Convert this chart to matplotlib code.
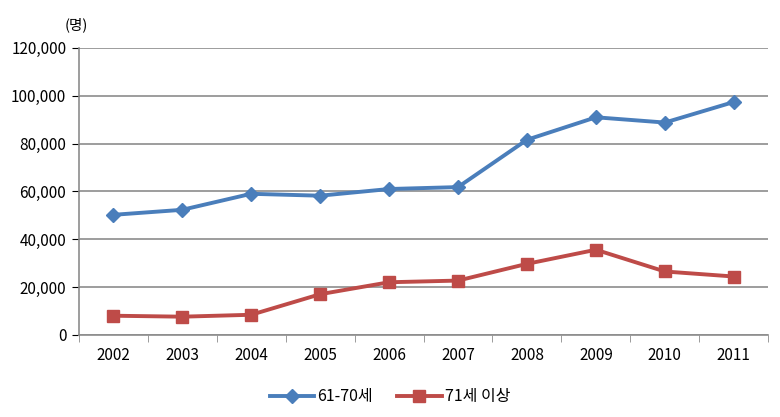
import matplotlib.pyplot as plt
import numpy as np

plt.rcParams['font.family'] = ['Noto Sans CJK KR', 'DejaVu Sans']

years = ['2002', '2003', '2004', '2005', '2006', '2007', '2008', '2009', '2010', '2011']
age_61_70 = [50200, 52300, 59000, 58200, 61000, 61800, 81600, 91000, 88800, 97400]
age_71_up = [8000, 7600, 8400, 17000, 22000, 22700, 29700, 35600, 26500, 24400]

blue = '#4A7EBB'
red = '#BE4B48'
grid = '#8C8C8C'

fig = plt.figure(figsize=(7.8, 4.17), dpi=100)
ax = fig.add_axes([0.101, 0.197, 0.884, 0.688])

x = np.arange(len(years))
ax.plot(x, age_61_70, color=blue, lw=2.8, marker='D', ms=7, label='61-70세')
ax.plot(x, age_71_up, color=red, lw=2.8, marker='s', ms=9, label='71세 이상')

ax.set_xlim(-0.5, len(years) - 0.5)
ax.set_ylim(0, 120000)
ax.set_yticks(range(0, 120001, 20000))
ax.set_yticklabels([f'{v:,}' for v in range(0, 120001, 20000)])
ax.yaxis.grid(True, color=grid, lw=1.2)
ax.set_axisbelow(True)

ax.set_xticks(x)
ax.set_xticklabels(years)
ax.set_xticks(np.arange(-0.5, len(years)), minor=True)
ax.tick_params(axis='x', which='major', length=0, pad=9)
ax.tick_params(axis='x', which='minor', length=5, color=grid)
ax.tick_params(axis='y', length=5, color=grid, pad=4)
ax.tick_params(labelsize=11, colors='black')

for s in ['top', 'right']:
    ax.spines[s].set_visible(False)
for s in ['left', 'bottom']:
    ax.spines[s].set_color(grid)
    ax.spines[s].set_linewidth(1.2)

fig.text(0.083, 0.94, '(명)', fontsize=10.5, ha='left', va='center')

fig.legend(loc='center', bbox_to_anchor=(0.5, 0.048), ncol=2, frameon=False,
           fontsize=11.5, handlelength=2.8, columnspacing=1.5, handletextpad=0.2)

fig.savefig('out.png', dpi=100)
